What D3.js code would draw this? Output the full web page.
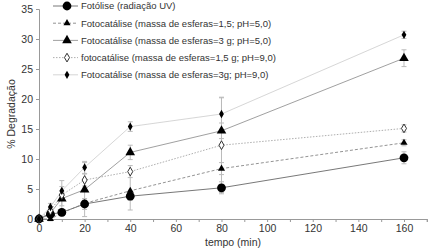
<!DOCTYPE html>
<html>
<head>
<meta charset="utf-8">
<script src="https://cdn.jsdelivr.net/npm/d3@7"></script>
<style>
  body { margin: 0; background: #fff; }
  text { font-family: "Liberation Sans Narrow", "Liberation Sans", Arial, sans-serif; }
</style>
</head>
<body>
<svg id="chart" width="433" height="251"></svg>
<script>
const width = 433, height = 251;

// time points (min)
const tempo = [0, 5, 10, 20, 40, 80, 160];

// % degradation per series
const fotolise = [0, 0.8, 1.1, 2.5, 3.8, 5.2, 10.2];
const cat15pH5 = [0, 0.0, 1.0, 2.6, 4.7, 8.4, 12.7];
const cat3pH5 = [0, 1.0, 3.4, 4.9, 11.1, 14.7, 26.8];
const cat15pH9 = [0, 1.4, 4.0, 6.5, 7.9, 12.3, 15.1];
const cat3pH9 = [0, 2.0, 4.7, 8.6, 15.4, 17.5, 30.7];

// error bars (+/-)
const errFotolise = [0.3, 0.5, 0.5, 0.9, 0.7, 1.0, 1.0];
const err15pH5 = [0.2, 0.3, 0.5, 0.5, 3.2, 1.0, 0.5];
const err3pH5 = [0.2, 0.5, 1.2, 4.5, 1.2, 1.3, 1.4];
const err15pH9 = [0.2, 0.6, 2.4, 1.0, 1.0, 7.9, 0.6];
const err3pH9 = [0.2, 0.6, 0.7, 1.0, 0.8, 2.8, 0.6];

const legendLabels = [
  "Fotólise (radiação UV)",
  "Fotocatálise (massa de esferas=1,5; pH=5,0)",
  "Fotocatálise (massa de esferas=3 g; pH=5,0)",
  "fotocatálise (massa de esferas=1,5 g; pH=9,0)",
  "Fotocatálise (massa de esferas=3g; pH=9,0)"
];

const xTicks = [0, 20, 40, 60, 80, 100, 120, 140, 160];
const yTicks = [0, 5, 10, 15, 20, 25, 30, 35];

const series = [
  {values: fotolise, err: errFotolise, stroke: "#555", dash: null, marker: "circle"},
  {values: cat15pH5, err: err15pH5, stroke: "#777", dash: "3,2", marker: "triSmall"},
  {values: cat3pH5, err: err3pH5, stroke: "#888", dash: null, marker: "triBig"},
  {values: cat15pH9, err: err15pH9, stroke: "#999", dash: "1.5,1.5", marker: "openDiamond"},
  {values: cat3pH9, err: err3pH9, stroke: "#ccc", dash: null, marker: "diamond"}
];
series.forEach((s, i) => s.label = legendLabels[i]);

const svg = d3.select("#chart");
const font = "Liberation Sans Narrow, Liberation Sans, Arial, sans-serif";

const x = d3.scaleLinear().domain([0, 170]).range([39, 426.8]);
const y = d3.scaleLinear().domain([0, 35]).range([219, 9]);

// axes
const xAxis = d3.axisBottom(x)
  .tickValues(d3.range(0, 171, 10))
  .tickSize(3)
  .tickFormat(d => xTicks.includes(d) ? d : "");
const gx = svg.append("g").attr("transform", `translate(0,${y(0)})`).call(xAxis);

const yAxis = d3.axisLeft(y).tickValues(yTicks).tickSize(3);
const gy = svg.append("g").attr("transform", `translate(${x(0)},0)`).call(yAxis);

[gx, gy].forEach(g => {
  g.select(".domain").attr("stroke", "#999");
  g.selectAll(".tick line").attr("stroke", "#999");
  g.selectAll(".tick text").attr("fill", "#333").attr("font-size", 10.5)
    .attr("font-family", font);
});
gy.selectAll(".tick text").attr("x", -6);

svg.append("text")
  .attr("x", 233).attr("y", 246)
  .attr("text-anchor", "middle").attr("font-size", 10.5).attr("fill", "#333")
  .text("tempo (min)");

svg.append("text")
  .attr("transform", "translate(15,114) rotate(-90)")
  .attr("text-anchor", "middle").attr("font-size", 10.5).attr("fill", "#333")
  .text("% Degradação");

// marker drawing
function drawMarker(g, type) {
  if (type === "circle") {
    g.append("circle").attr("r", 4.4).attr("fill", "#000");
  } else if (type === "triSmall") {
    g.append("path").attr("d", d3.symbol(d3.symbolTriangle, 22)()).attr("fill", "#000");
  } else if (type === "triBig") {
    g.append("path").attr("d", d3.symbol(d3.symbolTriangle, 40)()).attr("fill", "#000");
  } else if (type === "openDiamond") {
    g.append("path").attr("d", d3.symbol(d3.symbolDiamond, 22)())
      .attr("fill", "#fff").attr("stroke", "#333").attr("stroke-width", 1);
  } else if (type === "diamond") {
    g.append("path").attr("d", d3.symbol(d3.symbolDiamond, 20)()).attr("fill", "#000");
  }
}

// error bars
series.forEach(s => {
  const eb = svg.append("g").attr("stroke", "#bbb").attr("stroke-width", 1);
  tempo.forEach((t, i) => {
    const v = s.values[i], e = s.err[i];
    const cx = x(t);
    eb.append("line").attr("x1", cx).attr("x2", cx).attr("y1", y(v - e)).attr("y2", y(v + e));
    [v - e, v + e].forEach(c => {
      eb.append("line").attr("x1", cx - 2.5).attr("x2", cx + 2.5).attr("y1", y(c)).attr("y2", y(c));
    });
  });
});

// lines
const line = d3.line().x((d, i) => x(tempo[i])).y(d => y(d));
series.forEach(s => {
  svg.append("path")
    .datum(s.values)
    .attr("fill", "none")
    .attr("stroke", s.stroke)
    .attr("stroke-width", 0.8)
    .attr("stroke-dasharray", s.dash)
    .attr("d", line);
});

// markers
series.forEach(s => {
  s.values.forEach((v, i) => {
    const g = svg.append("g").attr("transform", `translate(${x(tempo[i])},${y(v)})`);
    drawMarker(g, s.marker);
  });
});

// legend
const legend = svg.append("g");
series.forEach((s, i) => {
  const ly = 6 + i * 17.2;
  legend.append("line")
    .attr("x1", 53).attr("x2", 78).attr("y1", ly).attr("y2", ly)
    .attr("stroke", s.stroke).attr("stroke-width", 0.8)
    .attr("stroke-dasharray", s.dash);
  drawMarker(legend.append("g").attr("transform", `translate(67,${ly})`), s.marker);
  legend.append("text")
    .attr("x", 81).attr("y", ly).attr("dy", "0.35em")
    .attr("font-size", 9.5).attr("fill", "#333")
    .text(s.label);
});
</script>
</body>
</html>
